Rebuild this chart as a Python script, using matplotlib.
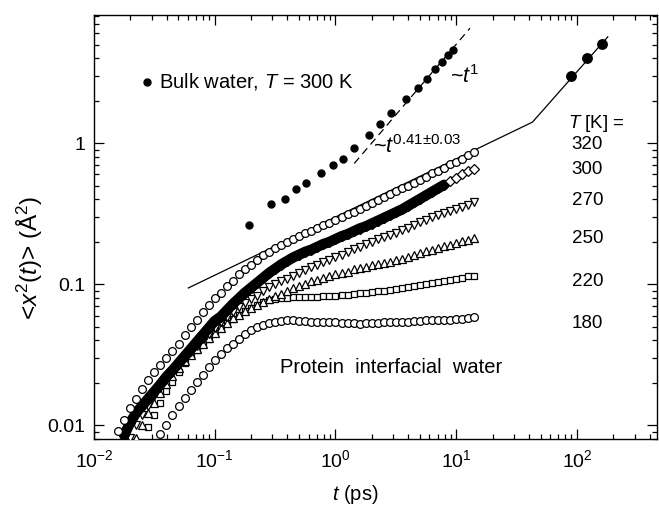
import matplotlib
matplotlib.use("Agg")
import matplotlib.pyplot as plt
import numpy as np

plt.rcParams['font.family'] = ['Liberation Sans', 'DejaVu Sans']
plt.rcParams['mathtext.fontset'] = 'custom'
plt.rcParams['mathtext.rm'] = 'Liberation Sans'
plt.rcParams['mathtext.it'] = 'Liberation Sans:italic'
plt.rcParams['mathtext.bf'] = 'Liberation Sans:bold'

# common time grid (ps) of the protein interfacial water curves
T_GRID = [0.01585, 0.01778, 0.01995, 0.02239, 0.02512, 0.02818, 0.03162, 0.03548, 0.03981, 0.04467,
          0.05012, 0.05623, 0.06310, 0.07079, 0.07943, 0.08913, 0.1, 0.1122, 0.1259, 0.1413,
          0.1585, 0.1778, 0.1995, 0.2239, 0.2512, 0.2818, 0.3162, 0.3548, 0.3981, 0.4467,
          0.5012, 0.5623, 0.6310, 0.7079, 0.7943, 0.8913, 1.0, 1.122, 1.259, 1.413,
          1.585, 1.778, 1.995, 2.239, 2.512, 2.818, 3.162, 3.548, 3.981, 4.467,
          5.012, 5.623, 6.310, 7.079, 7.943, 8.913, 10.0, 11.22, 12.59, 14.13]

# <x^2(t)> values (A^2); each series ends at the last grid time
msd_320 = [0.00912, 0.01096, 0.01318, 0.01549, 0.0182, 0.02089, 0.02399, 0.02692, 0.0302, 0.03388,
           0.03802, 0.04365, 0.05012, 0.05623, 0.0631, 0.0708, 0.0794, 0.0871, 0.0977, 0.106,
           0.1175, 0.1274, 0.138, 0.1496, 0.1603, 0.17, 0.18, 0.1905, 0.1995, 0.209,
           0.219, 0.229, 0.24, 0.251, 0.263, 0.272, 0.285, 0.2985, 0.313, 0.327,
           0.343, 0.359, 0.376, 0.394, 0.412, 0.437, 0.457, 0.479, 0.501, 0.525,
           0.55, 0.575, 0.61, 0.638, 0.668, 0.708, 0.741, 0.776, 0.822, 0.871]
msd_300 = [0.00851, 0.01047, 0.0123, 0.0138, 0.01549, 0.01738, 0.0195, 0.02213, 0.02455, 0.02754,
           0.0309, 0.03467, 0.0389, 0.04365, 0.04898, 0.05495, 0.05888, 0.06531, 0.07244, 0.07943,
           0.0871, 0.09441, 0.1023, 0.1109, 0.1202, 0.1288, 0.138, 0.1462, 0.1549, 0.1622,
           0.1698, 0.1758, 0.1841, 0.1928, 0.1995, 0.2089, 0.2188, 0.2265, 0.2371, 0.2483,
           0.257, 0.2692, 0.2818, 0.2951, 0.309, 0.3236, 0.3388, 0.3589, 0.3802, 0.4027,
           0.4266, 0.4519, 0.4786, 0.507, 0.537, 0.5689, 0.6026, 0.631, 0.6607]
msd_270 = [0.00813, 0.01, 0.01189, 0.0138, 0.01603, 0.01841, 0.02089, 0.02344, 0.02692, 0.02985,
           0.03311, 0.03673, 0.04074, 0.04467, 0.04898, 0.05433, 0.05888, 0.06383, 0.06918, 0.07328,
           0.07852, 0.08318, 0.08913, 0.0955, 0.1, 0.1047, 0.1096, 0.1148, 0.1202, 0.1259,
           0.1318, 0.138, 0.1445, 0.1496, 0.1567, 0.1622, 0.1698, 0.1778, 0.1841, 0.1928,
           0.1995, 0.2089, 0.2163, 0.2239, 0.2317, 0.2427, 0.2512, 0.263, 0.2754, 0.2851,
           0.2985, 0.309, 0.3199, 0.3311, 0.3428, 0.3548, 0.3673, 0.3802]
msd_250 = [0.00813, 0.01, 0.01216, 0.01445, 0.01698, 0.01972, 0.02239, 0.02541, 0.02851, 0.03162,
           0.03467, 0.03802, 0.04169, 0.04519, 0.04898, 0.05309, 0.05754, 0.06095, 0.06457, 0.06761,
           0.07161, 0.07499, 0.07852, 0.08222, 0.08511, 0.08913, 0.09333, 0.09772, 0.1012, 0.1047,
           0.1072, 0.1109, 0.1135, 0.1175, 0.1202, 0.123, 0.1274, 0.1303, 0.1334, 0.1365,
           0.1396, 0.1413, 0.1445, 0.1479, 0.1514, 0.1549, 0.1603, 0.166, 0.1718, 0.1758,
           0.1799, 0.1862, 0.1905, 0.195, 0.2018, 0.2065, 0.2138]
msd_220 = [0.00966, 0.01189, 0.01445, 0.01738, 0.02042, 0.02399, 0.02786, 0.03126, 0.03428, 0.03802,
           0.04121, 0.04519, 0.04898, 0.05309, 0.05689, 0.06095, 0.06457, 0.06839, 0.07161, 0.07499,
           0.07674, 0.07852, 0.07943, 0.08035, 0.08128, 0.08128, 0.08128, 0.08128, 0.08128, 0.08222,
           0.08222, 0.08318, 0.08414, 0.08414, 0.08511, 0.0861, 0.0871, 0.0881, 0.08913, 0.09016,
           0.0912, 0.09226, 0.09333, 0.0955, 0.09772, 0.09886, 0.1012, 0.1023, 0.1035, 0.1059,
           0.1072, 0.1096, 0.1109, 0.1135, 0.1148]
msd_180 = [0.00861, 0.01, 0.01175, 0.0138, 0.01567, 0.01778, 0.02018, 0.02265, 0.0257, 0.02884,
           0.03199, 0.03508, 0.03802, 0.04121, 0.04467, 0.04732, 0.04955, 0.05129, 0.05309, 0.05433,
           0.05495, 0.05559, 0.05559, 0.05495, 0.05495, 0.05433, 0.05433, 0.0537, 0.0537, 0.0537,
           0.05309, 0.05309, 0.05309, 0.05248, 0.05309, 0.05309, 0.05309, 0.0537, 0.0537, 0.0537,
           0.05433, 0.05433, 0.05495, 0.05495, 0.05559, 0.05559, 0.05623, 0.05623, 0.05623, 0.05689,
           0.05689, 0.05754, 0.05821]

# bulk water at 300 K
bulk_t = [0.191, 0.291, 0.380, 0.474, 0.570, 0.755, 0.951, 1.15, 1.43, 1.90,
          2.34, 2.87, 3.82, 4.83, 5.71, 6.73, 7.64, 8.61, 9.42]
bulk_msd = [0.262, 0.369, 0.401, 0.474, 0.518, 0.616, 0.695, 0.770, 0.917, 1.145,
            1.364, 1.624, 2.04, 2.48, 2.86, 3.37, 3.77, 4.19, 4.57]
bulk_long_t = [90, 121, 162]
bulk_long_msd = [3.00, 4.01, 5.06]

# guide lines
sub_t = [0.0604, 42.8, 180]
sub_msd = [0.0941, 1.41, 5.67]
lin_t = [1.43, 13.0]
lin_msd = [0.718, 6.53]

temps = ['320', '300', '270', '250', '220', '180']

fig = plt.figure(figsize=(6.59, 5.07), dpi=100)
ax = fig.add_axes([94/659, 68/507, 563/659, 424/507])
ax.set_xscale('log')
ax.set_yscale('log')
ax.set_xlim(0.01, 460)
ax.set_ylim(0.008, 8.1)

def tgrid(vals):
    return T_GRID[-len(vals):]

ms = 5.6
mew = 0.9
open_kw = dict(ls='none', mfc='white', mec='black', mew=mew, ms=ms)

ax.plot(sub_t, sub_msd, '-', color='black', lw=0.9, zorder=2)
ax.plot(lin_t, lin_msd, '--', color='black', lw=0.9, dashes=(6, 4), zorder=2)

ax.plot(tgrid(msd_180), msd_180, marker='o', **open_kw, zorder=3)
ax.plot(tgrid(msd_220), msd_220, marker='s', **dict(open_kw, ms=5.0), zorder=3)
ax.plot(tgrid(msd_250), msd_250, marker='^', **open_kw, zorder=3)
ax.plot(tgrid(msd_270), msd_270, marker='v', **open_kw, zorder=3)
t300 = np.array(tgrid(msd_300))
m300 = np.array(msd_300)
band = t300 <= 8.0
ax.plot(t300[band], m300[band], '-', color='black', lw=7.5, solid_capstyle='round', zorder=4)
ax.plot(t300[band], m300[band], marker='D', ls='none', mfc='black', mec='black', ms=5.5, zorder=4)
ax.plot(t300[~band], m300[~band], marker='D', ls='none', mfc='white', mec='black', mew=mew, ms=5.2, zorder=4)
ax.plot(tgrid(msd_320), msd_320, marker='o', **open_kw, zorder=5)

ax.plot(bulk_t, bulk_msd, 'o', color='black', ms=5.0, zorder=6)
ax.plot(bulk_long_t, bulk_long_msd, 'o', color='black', ms=6.8, zorder=6)

ax.set_yticks([0.01, 0.1, 1])
ax.set_yticklabels(['0.01', '0.1', '1'])
ax.tick_params(which='both', direction='in', top=True, right=True, labelsize=14)
ax.tick_params(which='major', length=7, width=0.9)
ax.tick_params(which='minor', length=3.5, width=0.9)
ax.tick_params(axis='x', which='major', pad=7)
ax.tick_params(axis='y', which='major', pad=6)
for s in ax.spines.values():
    s.set_linewidth(1.0)

fs = 14.5
fs_t = 13.5
ax.plot([0.0936], [0.843], 'o', color='black', ms=5.0, transform=ax.transAxes, clip_on=False)
ax.text(0.1155, 0.843, 'Bulk water, $T$ = 300 K', transform=ax.transAxes, fontsize=fs, va='center', ha='left')
ax.text(0.632, 0.840, '~$t^{1}$', transform=ax.transAxes, fontsize=15.5, va='baseline', ha='left')
ax.text(0.4956, 0.6745, '~$t^{0.41\u00b10.03}$', transform=ax.transAxes, fontsize=15.5, va='baseline', ha='left')
ax.text(0.8425, 0.733, '$T$ [K] =', transform=ax.transAxes, fontsize=fs_t, va='baseline', ha='left')
for lab, yb in zip(temps, [0.6830, 0.625, 0.5519, 0.4623, 0.362, 0.2611]):
    ax.text(0.8766, yb, lab, transform=ax.transAxes, fontsize=fs_t, va='baseline', ha='center')
ax.text(0.330, 0.1564, 'Protein  interfacial  water', transform=ax.transAxes, fontsize=fs, va='baseline', ha='left')

fig.text(355/659, 7/507, '$t$ (ps)', fontsize=fs, ha='center', va='baseline')
fig.text(30/659, (507-258)/507, r'<$x^{2}$($t$)> (Å$^{2}$)', fontsize=17.5, rotation=90, ha='center', va='center')

fig.savefig('out.png', dpi=100)
